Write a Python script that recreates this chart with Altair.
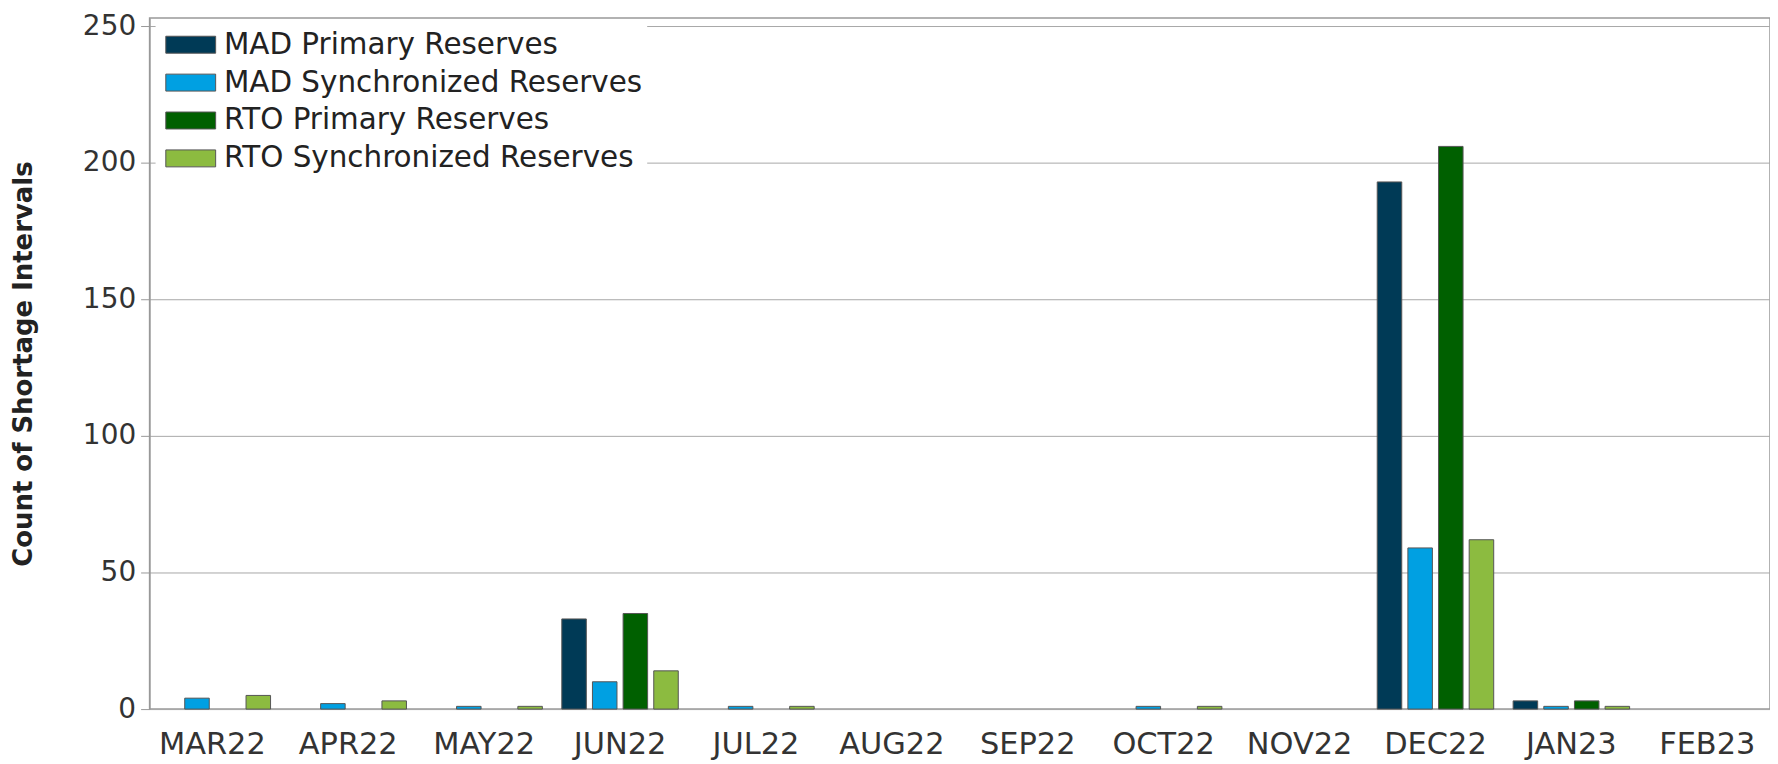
import altair as alt
import pandas as pd

months = ["MAR22", "APR22", "MAY22", "JUN22", "JUL22", "AUG22",
          "SEP22", "OCT22", "NOV22", "DEC22", "JAN23", "FEB23"]
series = ["MAD Primary Reserves", "MAD Synchronized Reserves",
          "RTO Primary Reserves", "RTO Synchronized Reserves"]

mad_primary = [0, 0, 0, 33, 0, 0, 0, 0, 0, 193, 3, 0]
mad_sync = [4, 2, 1, 10, 1, 0, 0, 1, 0, 59, 1, 0]
rto_primary = [0, 0, 0, 35, 0, 0, 0, 0, 0, 206, 3, 0]
rto_sync = [5, 3, 1, 14, 1, 0, 0, 1, 0, 62, 1, 0]

colors = ["#003A56", "#00A0E2", "#006000", "#8CBB40"]
y_ticks = [0, 50, 100, 150, 200, 250]

rows = []
for s, vals in zip(series, [mad_primary, mad_sync, rto_primary, rto_sync]):
    for m, v in zip(months, vals):
        rows.append({"month": m, "series": s, "value": v})
df = pd.DataFrame(rows)

FONT = "DejaVu Sans"
# wide rectangle legend swatch (custom path, scaled by sqrt(size)/2)
swatch = "M-1,-1L4.88,-1L4.88,1L-1,1Z"

chart = alt.Chart(df).transform_filter("datum.value > 0").mark_bar(
    stroke="#555555", strokeWidth=1
).encode(
    x=alt.X("month:N", sort=months,
            scale=alt.Scale(domain=months, paddingInner=0.143, paddingOuter=0.033),
            axis=alt.Axis(title=None, labelAngle=0, ticks=False, labelPadding=21,
                          labelFontSize=30.5, labelFont=FONT, labelColor="#333333",
                          domain=False, grid=False)),
    xOffset=alt.XOffset("series:N", sort=series,
                        scale=alt.Scale(domain=series, paddingInner=0.2, paddingOuter=0)),
    y=alt.Y("value:Q", scale=alt.Scale(domain=[0, 253], nice=False),
            axis=alt.Axis(values=y_ticks, title="Count of Shortage Intervals",
                          titleFont=FONT, titleFontSize=26, titleFontWeight="bold",
                          titleColor="#222222", titlePadding=46,
                          labelFont=FONT, labelFontSize=28, labelColor="#333333",
                          labelPadding=5, tickSize=9, tickColor="#999999",
                          domainColor="#999999", gridColor="#a8a8a8", gridWidth=1)),
    color=alt.Color("series:N", sort=series,
                    scale=alt.Scale(domain=series, range=colors),
                    legend=alt.Legend(title=None, orient="none", legendX=6, legendY=8,
                                      padding=4, fillColor="white",
                                      symbolType=swatch, symbolSize=289,
                                      symbolStrokeColor="#555555", symbolStrokeWidth=1,
                                      symbolOpacity=1,
                                      labelFont=FONT, labelFontSize=29.5,
                                      labelColor="#222222", labelOffset=35,
                                      labelLimit=600, rowPadding=7)),
).properties(
    width=1625, height=693,
    autosize=alt.AutoSizeParams(type="none"),
    padding={"left": 142, "top": 9, "right": 0, "bottom": 54},
).configure_view(
    stroke="#999999", strokeWidth=1.5
)

chart.save("out.html", embed_options={"renderer": "svg", "actions": False})
